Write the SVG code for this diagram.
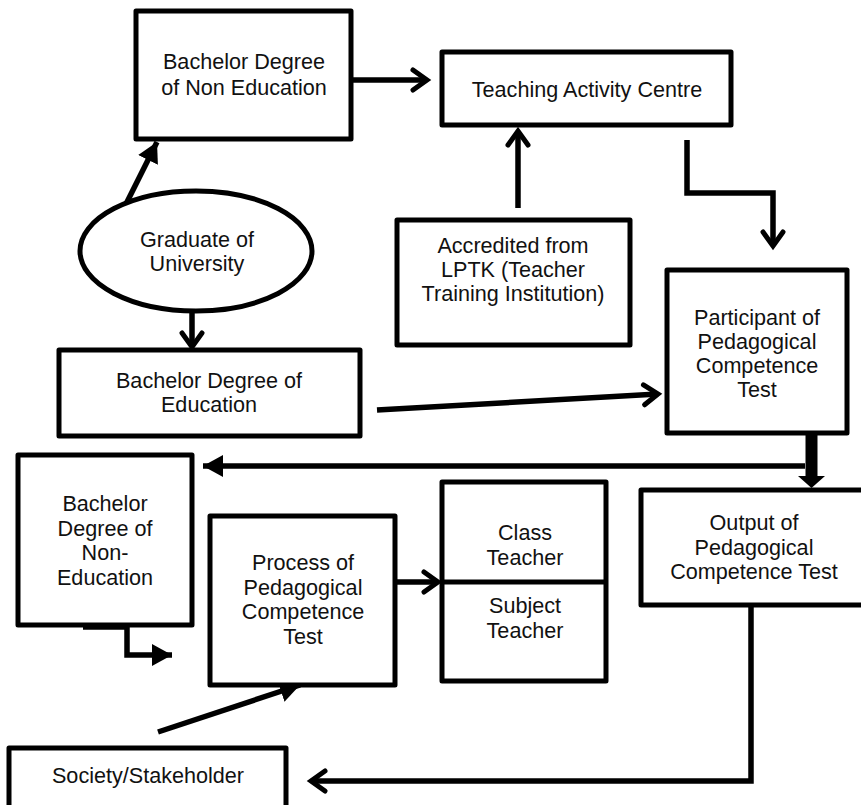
<svg xmlns="http://www.w3.org/2000/svg" width="861" height="805" viewBox="0 0 861 805">
<style>
.box{fill:#fff;stroke:#000;stroke-width:5;stroke-linejoin:round}
.t{font-family:"Liberation Sans",Arial,sans-serif;font-size:21.6px;fill:#111;text-anchor:middle}
.c{fill:none;stroke:#000;stroke-width:5.5}
</style>
<defs>
<marker id="chev" markerUnits="userSpaceOnUse" markerWidth="24" markerHeight="30" refX="17" refY="13" orient="auto">
<path d="M3,3 L17,13 L3,23" fill="none" stroke="#000" stroke-width="5" stroke-linecap="round" stroke-linejoin="miter"/>
</marker>
<marker id="tri" markerUnits="userSpaceOnUse" markerWidth="24" markerHeight="24" refX="20" refY="11" orient="auto">
<path d="M0,0 L20,11 L0,22 z" fill="#000"/>
</marker>
</defs>
<rect width="861" height="805" fill="#fff"/>
<g id="connectors">
<line class="c" x1="353" y1="80" x2="427" y2="80" marker-end="url(#chev)"/>
<line class="c" x1="518" y1="208" x2="518" y2="131" marker-end="url(#chev)"/>
<path class="c" d="M687,140 V193 H773 V246" marker-end="url(#chev)"/>
<line class="c" x1="120" y1="216" x2="157" y2="142" marker-end="url(#tri)"/>
<line class="c" x1="192" y1="313" x2="192" y2="347" marker-end="url(#chev)"/>
<line class="c" x1="377" y1="410" x2="658" y2="394" marker-end="url(#chev)"/>
<line x1="811.5" y1="433" x2="811.5" y2="478" stroke="#000" stroke-width="12"/>
<path d="M798,476 L825,476 L811.5,488 z" fill="#000"/>
<line class="c" x1="805" y1="466" x2="203" y2="466" marker-end="url(#tri)"/>
<path class="c" d="M83,627 H127 V655 H172" marker-end="url(#tri)"/>
<line class="c" x1="397" y1="582" x2="438" y2="582" marker-end="url(#chev)"/>
<path class="c" d="M751,607 V781 H311" marker-end="url(#chev)"/>
<line class="c" x1="158" y1="732" x2="300" y2="685" marker-end="url(#tri)"/>
</g>
<g id="bachelor-non-education-top">
<rect class="box" x="136" y="11" width="215" height="128"/>
<text class="t" x="244" y="69"><tspan x="244">Bachelor Degree</tspan><tspan x="244" dy="26">of Non Education</tspan></text>
</g>
<g id="teaching-activity-centre">
<rect class="box" x="442" y="52" width="289" height="73"/>
<text class="t" x="587" y="97">Teaching Activity Centre</text>
</g>
<g id="graduate-of-university">
<ellipse class="box" cx="196" cy="251" rx="116" ry="60"/>
<text class="t" x="197" y="247"><tspan x="197">Graduate of</tspan><tspan x="197" dy="24">University</tspan></text>
</g>
<g id="accredited-lptk">
<rect class="box" x="397" y="220" width="233" height="125"/>
<text class="t" x="513" y="253"><tspan x="513">Accredited from</tspan><tspan x="513" dy="24">LPTK (Teacher</tspan><tspan x="513" dy="24">Training Institution)</tspan></text>
</g>
<g id="participant">
<rect class="box" x="667" y="270" width="180" height="163"/>
<text class="t" x="757" y="325"><tspan x="757">Participant of</tspan><tspan x="757" dy="24">Pedagogical</tspan><tspan x="757" dy="24">Competence</tspan><tspan x="757" dy="24">Test</tspan></text>
</g>
<g id="bachelor-education">
<rect class="box" x="59" y="350" width="301" height="86"/>
<text class="t" x="209" y="388"><tspan x="209">Bachelor Degree of</tspan><tspan x="209" dy="24">Education</tspan></text>
</g>
<g id="bachelor-non-education">
<rect class="box" x="18" y="455" width="174" height="170"/>
<text class="t" x="105" y="511"><tspan x="105">Bachelor</tspan><tspan x="105" dy="24.5">Degree of</tspan><tspan x="105" dy="24.5">Non-</tspan><tspan x="105" dy="24.5">Education</tspan></text>
</g>
<g id="process">
<rect class="box" x="210" y="516" width="185" height="169"/>
<text class="t" x="303" y="570"><tspan x="303">Process of</tspan><tspan x="303" dy="24.5">Pedagogical</tspan><tspan x="303" dy="24.5">Competence</tspan><tspan x="303" dy="24.5">Test</tspan></text>
</g>
<g id="class-subject-teacher">
<rect class="box" x="442" y="482" width="164" height="199"/>
<line x1="442" y1="582" x2="606" y2="582" stroke="#000" stroke-width="5"/>
<text class="t" x="525" y="540"><tspan x="525">Class</tspan><tspan x="525" dy="25">Teacher</tspan><tspan x="525" y="613">Subject</tspan><tspan x="525" dy="25">Teacher</tspan></text>
</g>
<g id="output">
<rect class="box" x="641" y="490" width="228" height="115"/>
<text class="t" x="754" y="530"><tspan x="754">Output of</tspan><tspan x="754" dy="24.5">Pedagogical</tspan><tspan x="754" dy="24.5">Competence Test</tspan></text>
</g>
<g id="society">
<rect class="box" x="9" y="748" width="277" height="70"/>
<text class="t" x="148" y="783">Society/Stakeholder</text>
</g>
</svg>
